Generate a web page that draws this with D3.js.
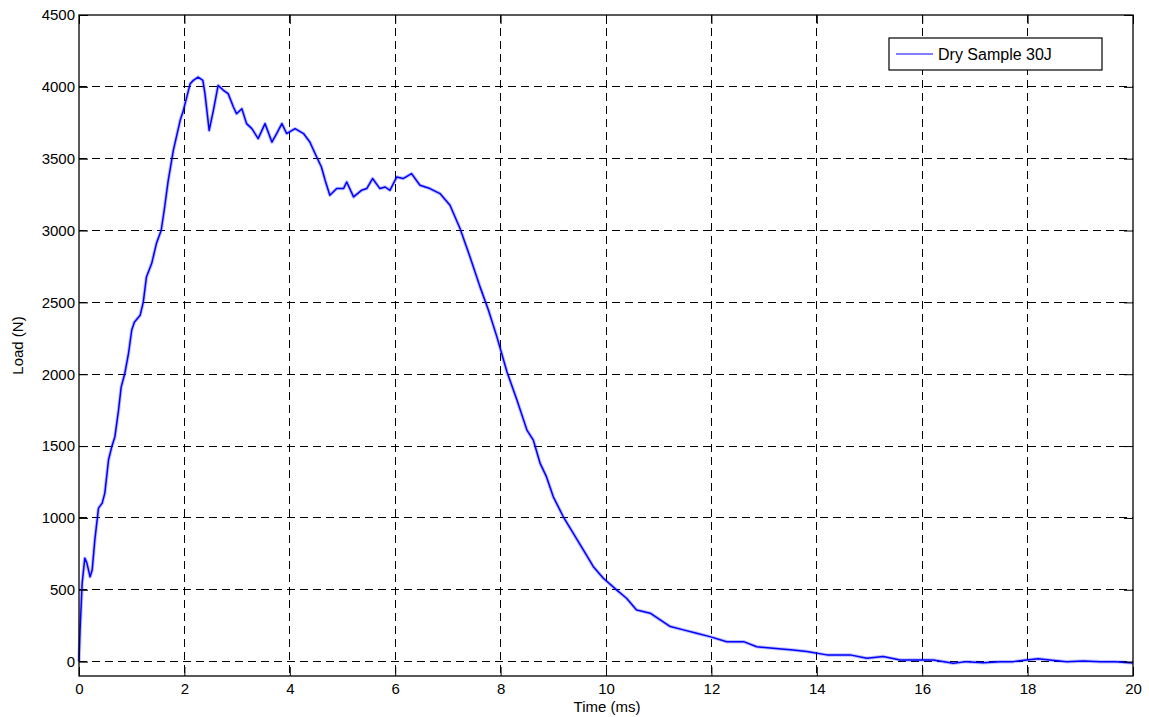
<!DOCTYPE html>
<meta charset="utf-8">
<style>
    body { margin: 0; background: #fff; }
    svg { display: block; font-family: "Liberation Sans", Arial, sans-serif; }
    .tick text { font-size: 15px; fill: #000; }
</style>
<script src="https://cdn.jsdelivr.net/npm/d3@7"></script>
<svg width="1149" height="717"></svg>
<script>
    // valores (tempo em ms, carga em N)
    var timeMs = [
        0, 0.02, 0.06, 0.11, 0.15, 0.21, 0.25, 0.30, 0.37, 0.44,
        0.49, 0.56, 0.62, 0.68, 0.75, 0.80, 0.87, 0.94, 1.00, 1.05,
        1.16, 1.22, 1.28, 1.38, 1.47, 1.56, 1.62, 1.69, 1.79, 1.92,
        1.98, 2.11, 2.17, 2.26, 2.35, 2.39, 2.47, 2.55, 2.64, 2.74,
        2.83, 2.93, 2.99, 3.09, 3.18, 3.28, 3.40, 3.53, 3.66, 3.75,
        3.85, 3.94, 4.10, 4.26, 4.38, 4.51, 4.60, 4.67, 4.76, 4.89,
        5.02, 5.08, 5.21, 5.36, 5.46, 5.57, 5.71, 5.81, 5.90, 6.03,
        6.15, 6.31, 6.47, 6.66, 6.85, 7.04, 7.23, 7.42, 7.61, 7.77,
        7.93, 8.12, 8.31, 8.50, 8.62, 8.75, 8.87, 9.00, 9.19, 9.38,
        9.57, 9.76, 9.95, 10.20, 10.39, 10.58, 10.84, 11.03, 11.22, 11.47,
        11.72, 11.97, 12.29, 12.61, 12.86, 13.17, 13.55, 13.81, 14.19, 14.63,
        14.95, 15.26, 15.58, 15.96, 16.21, 16.59, 16.84, 17.16, 17.48, 17.73,
        17.98, 18.20, 18.42, 18.74, 19.06, 19.38, 19.66, 20.00
    ];
    var loadN = [
        0, 220, 547, 720, 686, 590, 637, 846, 1068, 1103,
        1173, 1403, 1493, 1563, 1750, 1910, 2007, 2146, 2306, 2362,
        2410, 2503, 2677, 2772, 2911, 3002, 3150, 3340, 3558, 3767,
        3836, 4022, 4045, 4068, 4045, 3953, 3697, 3836, 4010, 3976,
        3953, 3860, 3813, 3848, 3744, 3709, 3640, 3744, 3616, 3675,
        3744, 3675, 3709, 3675, 3616, 3512, 3442, 3350, 3245, 3292,
        3292, 3338, 3234, 3280, 3292, 3362, 3292, 3303, 3280, 3373,
        3362, 3396, 3315, 3292, 3257, 3176, 3014, 2816, 2608, 2446,
        2260, 2017, 1820, 1611, 1542, 1380, 1287, 1147, 1008, 893,
        777, 661, 580, 499, 441, 360, 337, 290, 244, 221,
        198, 174, 139, 139, 104, 93, 81, 70, 47, 47,
        24, 35, 12, 12, 12, -11, 0, -7, 0, 0,
        12, 20, 12, 0, 5, 0, 0, -10
    ];
    var xTicks = [0, 2, 4, 6, 8, 10, 12, 14, 16, 18, 20];
    var yTicks = [0, 500, 1000, 1500, 2000, 2500, 3000, 3500, 4000, 4500];
    var serieNome = "Dry Sample 30J";

    var svg = d3.select("svg");
    var margem = { top: 15, right: 16, bottom: 41, left: 79 };
    var largura = 1149 - margem.left - margem.right,
        altura = 717 - margem.top - margem.bottom;

    var x = d3.scaleLinear().domain([0, 20]).range([0, largura]);
    var y = d3.scaleLinear().domain([-100, 4500]).range([altura, 0]);

    var g = svg.append("g").attr("transform", "translate(" + margem.left + "," + margem.top + ")");

    // grade tracejada
    g.append("g").selectAll("line").data(xTicks.slice(1, -1)).enter().append("line")
        .attr("x1", function (d) { return x(d); }).attr("x2", function (d) { return x(d); })
        .attr("y1", 0).attr("y2", altura)
        .attr("stroke", "#000").attr("stroke-dasharray", "8,5").attr("shape-rendering", "crispEdges");
    g.append("g").selectAll("line").data(yTicks.slice(0, -1)).enter().append("line")
        .attr("x1", 0).attr("x2", largura)
        .attr("y1", function (d) { return y(d); }).attr("y2", function (d) { return y(d); })
        .attr("stroke", "#000").attr("stroke-dasharray", "8,5").attr("shape-rendering", "crispEdges");

    // curva
    var linha = d3.line()
        .x(function (d, i) { return x(timeMs[i]); })
        .y(function (d) { return y(d); });

    g.append("path").datum(loadN)
        .attr("d", linha).attr("fill", "none")
        .attr("stroke", "#0000ff").attr("stroke-width", 3.5).attr("stroke-opacity", 0.25)
        .attr("stroke-linejoin", "round");
    g.append("path").datum(loadN)
        .attr("d", linha).attr("fill", "none")
        .attr("stroke", "#0000ff").attr("stroke-width", 1.5)
        .attr("stroke-linejoin", "round");

    // eixos com ticks para dentro
    g.append("g").attr("transform", "translate(0," + altura + ")")
        .call(d3.axisBottom(x).tickValues(xTicks).tickSize(-9).tickPadding(7).tickFormat(d3.format("d")));
    g.append("g")
        .call(d3.axisLeft(y).tickValues(yTicks).tickSize(-9).tickPadding(4).tickFormat(d3.format("d")));
    g.append("g")
        .call(d3.axisTop(x).tickValues(xTicks).tickSize(-9).tickFormat(""));
    g.append("g").attr("transform", "translate(" + largura + ",0)")
        .call(d3.axisRight(y).tickValues(yTicks).tickSize(-9).tickFormat(""));

    g.selectAll(".domain").remove();
    g.selectAll(".tick line").attr("stroke", "#000");
    g.append("rect").attr("width", largura).attr("height", altura)
        .attr("fill", "none").attr("stroke", "#000").attr("stroke-width", 1.3);

    // rótulos
    svg.append("text").attr("x", margem.left + largura / 2 + 1).attr("y", 712)
        .attr("text-anchor", "middle").style("font-size", "15px").text("Time (ms)");
    svg.append("text").attr("transform", "translate(23," + (margem.top + altura / 2) + ") rotate(-90)")
        .attr("text-anchor", "middle").style("font-size", "15px").text("Load (N)");

    // legenda
    var leg = svg.append("g").attr("transform", "translate(889,38)");
    leg.append("rect").attr("width", 213).attr("height", 32)
        .attr("fill", "#fff").attr("stroke", "#000").attr("stroke-width", 1.2);
    leg.append("line").attr("x1", 7).attr("x2", 44).attr("y1", 16).attr("y2", 16)
        .attr("stroke", "#0000ff").attr("stroke-width", 1);
    leg.append("text").attr("x", 49).attr("y", 22).style("font-size", "16px").text(serieNome);
</script>
